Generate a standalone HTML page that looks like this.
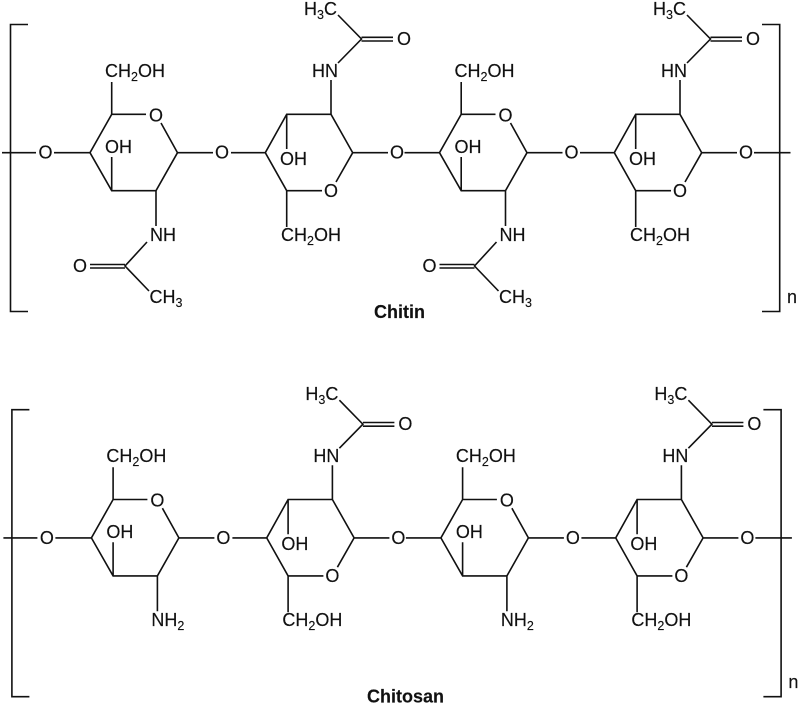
<!DOCTYPE html>
<html><head><meta charset="utf-8"><style>
html,body{margin:0;padding:0;background:#fff}
svg{display:block}
text{font-family:"Liberation Sans",sans-serif;font-size:18px;fill:#111;stroke:#111;stroke-width:.15}
.s{font-size:12.5px}
.m{text-anchor:middle}
.b{font-weight:bold}
path{fill:none;stroke:#111;stroke-width:1.6}
</style></head><body>
<svg width="800" height="706" viewBox="0 0 800 706" xmlns="http://www.w3.org/2000/svg">
<g id="top">
<path d="M28,24.5H10.5V311.5H28M762,24.5H779.7V311.5H762"/>
<path d="M2,152.7H36M754,152.7H790.5"/>
<text x="787" y="303">n</text>
<g>
<path d="M54,152.7H90L111.7,114.3H146M161,123L177.5,152.7L156,190.7H111.7L90,152.7M177.5,152.7H213M111.7,114.3V82M111.7,190.7V157M156,190.7V226M147,242L125,266L149,291M125,264.5H90M125,268H90"/>
<text class="m" x="45.5" y="158.7">O</text><text class="m" x="156" y="121.5">O</text><text class="m" x="222" y="158.7">O</text>
<text x="105" y="77">CH<tspan class="s" dy="4">2</tspan><tspan dy="-4">OH</tspan></text>
<text x="105" y="153">OH</text>
<text x="150" y="241">NH</text>
<text class="m" x="80" y="272">O</text>
<text x="149.500" y="303">CH<tspan class="s" dy="4">3</tspan></text>
</g>
<g>
<path d="M231,152.7H265.3L286.7,114.3H331L352.7,152.7L336,182M322,190.7H286.7L265.3,152.7M352.7,152.7H388M286.7,114.3V149M286.7,190.7V227M331,114.3V80M338,63L361.5,39L338,15M361.5,37.300H393M361.5,41H393"/>
<text class="m" x="331" y="197">O</text>
<text class="m" x="397" y="158.7">O</text>
<text x="280" y="165">OH</text>
<text x="281" y="241">CH<tspan class="s" dy="4">2</tspan><tspan dy="-4">OH</tspan></text>
<text x="312" y="77">HN</text>
<text class="m" x="404" y="45">O</text>
<text x="304" y="15">H<tspan class="s" dy="4">3</tspan><tspan dy="-4">C</tspan></text>
</g>
<g transform="translate(349.5,0)">
<path d="M55,152.7H90L111.7,114.3H146M161,123L177.5,152.7L156,190.7H111.7L90,152.7M177.5,152.7H213M111.7,114.3V82M111.7,190.7V157M156,190.7V226M147,242L125,266L149,291M125,264.5H90M125,268H90"/>
<text class="m" x="156" y="121.5">O</text><text class="m" x="222" y="158.7">O</text>
<text x="105" y="77">CH<tspan class="s" dy="4">2</tspan><tspan dy="-4">OH</tspan></text>
<text x="105" y="153">OH</text>
<text x="150" y="241">NH</text>
<text class="m" x="80" y="272">O</text>
<text x="149.500" y="303">CH<tspan class="s" dy="4">3</tspan></text>
</g>
<g transform="translate(349,0)">
<path d="M231,152.7H265.3L286.7,114.3H331L352.7,152.7L336,182M322,190.7H286.7L265.3,152.7M352.7,152.7H388M286.7,114.3V149M286.7,190.7V227M331,114.3V80M338,63L361.5,39L338,15M361.5,37.300H393M361.5,41H393"/>
<text class="m" x="331" y="197">O</text>
<text class="m" x="397" y="158.7">O</text>
<text x="280" y="165">OH</text>
<text x="281" y="241">CH<tspan class="s" dy="4">2</tspan><tspan dy="-4">OH</tspan></text>
<text x="312" y="77">HN</text>
<text class="m" x="404" y="45">O</text>
<text x="304" y="15">H<tspan class="s" dy="4">3</tspan><tspan dy="-4">C</tspan></text>
</g>
<text class="b" x="374" y="318">Chitin</text>
</g>
<g id="bottom" transform="translate(1.4,385.200)">
<path d="M28,24.5H10.5V311.5H28M762,24.5H779.7V311.5H762"/>
<path d="M2,152.7H36M754,152.7H790.5"/>
<text x="787" y="303">n</text>
<g>
<path d="M54,152.7H90L111.7,114.3H146M161,123L177.5,152.7L156,190.7H111.7L90,152.7M177.5,152.7H213M111.7,114.3V82M111.7,190.7V157M156,190.7V226"/>
<text class="m" x="45.5" y="158.7">O</text><text class="m" x="156" y="121.5">O</text><text class="m" x="222" y="158.7">O</text>
<text x="105" y="77">CH<tspan class="s" dy="4">2</tspan><tspan dy="-4">OH</tspan></text>
<text x="105" y="153">OH</text>
<text x="150" y="241">NH<tspan class="s" dy="4">2</tspan></text>
</g>
<g>
<path d="M231,152.7H265.3L286.7,114.3H331L352.7,152.7L336,182M322,190.7H286.7L265.3,152.7M352.7,152.7H388M286.7,114.3V149M286.7,190.7V227M331,114.3V80M338,63L361.5,39L338,15M361.5,37.300H393M361.5,41H393"/>
<text class="m" x="331" y="197">O</text>
<text class="m" x="397" y="158.7">O</text>
<text x="280" y="165">OH</text>
<text x="281" y="241">CH<tspan class="s" dy="4">2</tspan><tspan dy="-4">OH</tspan></text>
<text x="312" y="77">HN</text>
<text class="m" x="404" y="45">O</text>
<text x="304" y="15">H<tspan class="s" dy="4">3</tspan><tspan dy="-4">C</tspan></text>
</g>
<g transform="translate(349.5,0)">
<path d="M55,152.7H90L111.7,114.3H146M161,123L177.5,152.7L156,190.7H111.7L90,152.7M177.5,152.7H213M111.7,114.3V82M111.7,190.7V157M156,190.7V226"/>
<text class="m" x="156" y="121.5">O</text><text class="m" x="222" y="158.7">O</text>
<text x="105" y="77">CH<tspan class="s" dy="4">2</tspan><tspan dy="-4">OH</tspan></text>
<text x="105" y="153">OH</text>
<text x="150" y="241">NH<tspan class="s" dy="4">2</tspan></text>
</g>
<g transform="translate(349,0)">
<path d="M231,152.7H265.3L286.7,114.3H331L352.7,152.7L336,182M322,190.7H286.7L265.3,152.7M352.7,152.7H388M286.7,114.3V149M286.7,190.7V227M331,114.3V80M338,63L361.5,39L338,15M361.5,37.300H393M361.5,41H393"/>
<text class="m" x="331" y="197">O</text>
<text class="m" x="397" y="158.7">O</text>
<text x="280" y="165">OH</text>
<text x="281" y="241">CH<tspan class="s" dy="4">2</tspan><tspan dy="-4">OH</tspan></text>
<text x="312" y="77">HN</text>
<text class="m" x="404" y="45">O</text>
<text x="304" y="15">H<tspan class="s" dy="4">3</tspan><tspan dy="-4">C</tspan></text>
</g>
</g>
<text class="b" x="367" y="702.600">Chitosan</text>
</svg>
</body></html>
